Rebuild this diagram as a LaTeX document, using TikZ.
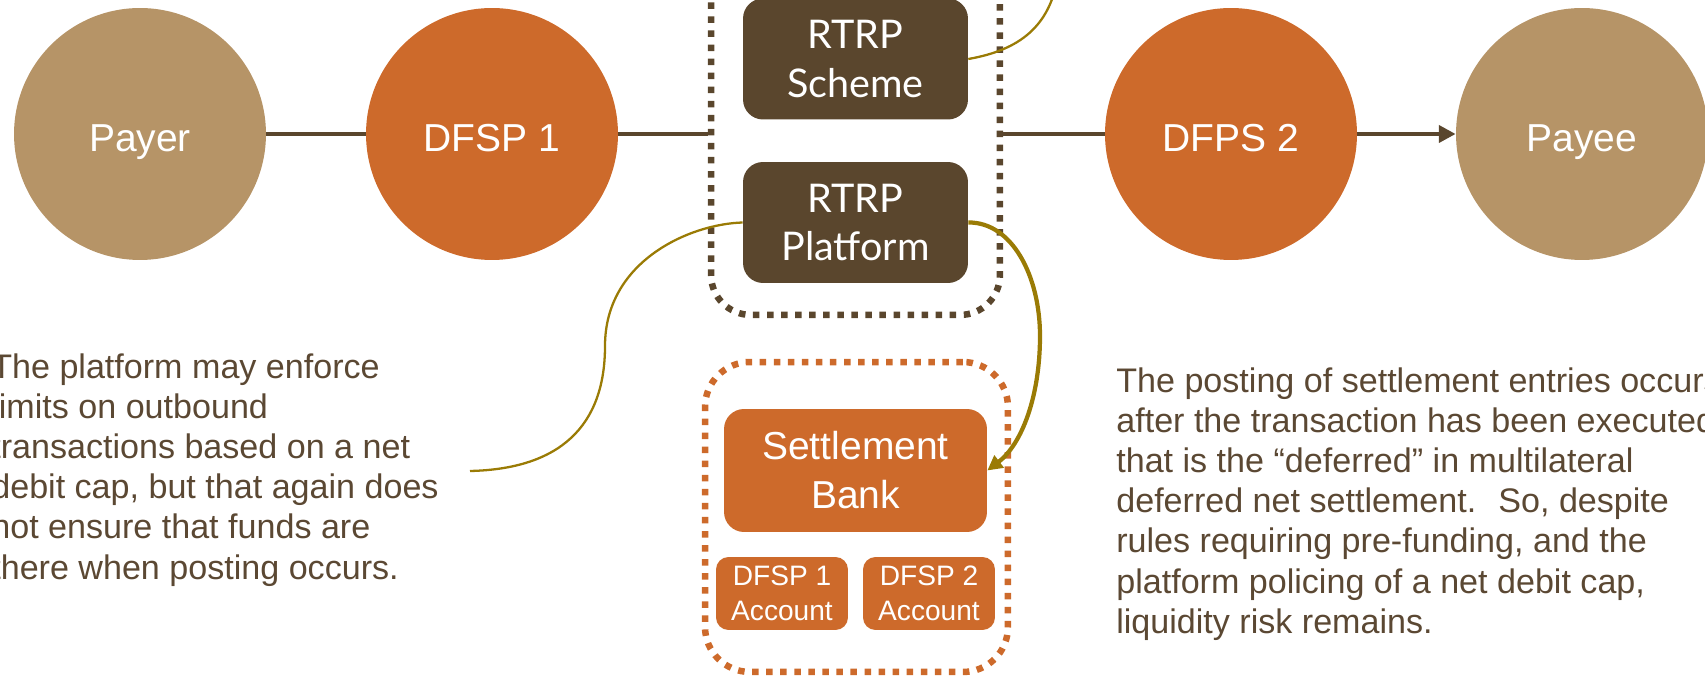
\documentclass[tikz,border=0pt]{standalone}
\usepackage{fontspec}
\setmainfont{Liberation Sans}
\newfontfamily\rtrpfont{Lato}
\usetikzlibrary{arrows.meta,positioning}
\definecolor{partytan}{HTML}{B69467}
\definecolor{dfsporange}{HTML}{CD6A2B}
\definecolor{rtrpbrown}{HTML}{5A462D}
\definecolor{linkgold}{HTML}{9A7B05}
\definecolor{notebrown}{HTML}{5B4833}
\tikzset{
  party/.style={circle, fill=partytan, text=white, minimum size=5.04cm, inner sep=0pt,
    text height=19.4pt, text depth=0pt, font=\fontsize{22.2}{26}\selectfont},
  dfsp/.style={party, fill=dfsporange},
  rtrpbox/.style={rectangle, rounded corners=0.4cm, fill=rtrpbrown, text=white, align=center,
    minimum width=4.5cm, minimum height=2.42cm, inner sep=0pt,
    font=\rtrpfont\fontsize{22.5}{27.6}\selectfont},
  bankbox/.style={rectangle, rounded corners=0.4cm, fill=dfsporange, text=white, align=center,
    inner sep=0pt, font=\fontsize{22.2}{27.9}\selectfont},
  acctbox/.style={bankbox, rounded corners=0.25cm, minimum width=2.64cm, minimum height=1.46cm,
    font=\fontsize{16}{19.9}\selectfont},
  dotbox/.style={rectangle, draw, line width=3.7pt, dash pattern=on 3.7pt off 4.3pt, inner sep=0pt},
  flow/.style={draw=rtrpbrown, line width=2.8pt},
  golden/.style={draw=linkgold, line width=1.3pt},
  note/.style={anchor=north west, align=left, inner sep=0pt, text=notebrown,
    font=\fontsize{19.4}{22.9}\selectfont}
}
\begin{document}
\begin{tikzpicture}[x=0.02cm,y=0.02cm]
  \path[use as bounding box, clip] (0,0) rectangle (1705,676);
  % the payment chain
  \node[party] (payer) at (140,542) {Payer};
  \node[dfsp] (dfspA) at (492,542) {DFSP 1};
  \node[dfsp] (dfspB) at (1231,542) {DFPS 2};
  \node[party] (payee) at (1582,542) {Payee};
  % the real time retail payments core
  \node[dotbox, draw=rtrpbrown, rounded corners=0.8cm, minimum width=5.78cm, minimum height=7.24cm]
    (core) at (855.5,542) {};
  \node[rtrpbox] (scheme) at (855.5,617) {RTRP\\Scheme};
  \node[rtrpbox] (platform) at (855.5,453.5) {RTRP\\Platform};
  % settlement side
  \node[dotbox, draw=dfsporange, rounded corners=0.9cm, minimum width=6.06cm, minimum height=6.2cm]
    (bankgrp) at (856.5,159) {};
  \node[bankbox, minimum width=5.26cm, minimum height=2.46cm] (bank) at (855.5,205.5) {Settlement\\Bank};
  \node[acctbox] (acctA) at (782,82.5) {DFSP 1\\Account};
  \node[acctbox] (acctB) at (929,82.5) {DFSP 2\\Account};
  % the notes
  \node[note] (limits) at (-9,323) {The platform may enforce\\limits on outbound\\transactions based on a net\\debit cap, but that again does\\not ensure that funds are\\there when posting occurs.};
  \node[note] (posting) at (1116,309) {The posting of settlement entries occurs\\after the transaction has been executed;\\that is the “deferred” in multilateral\\deferred net settlement.~ So, despite\\rules requiring pre-funding, and the\\platform policing of a net debit cap,\\liquidity risk remains.};
  \coordinate (schemeup) at (1058,700);
  \coordinate (limitend) at (470,205);
  % connectors
  \draw[flow] (payer) -- (dfspA);
  \draw[flow] (dfspA) -- (core);
  \draw[flow] (core) -- (dfspB);
  \draw[flow, -{Triangle[length=9.5pt,width=9.5pt]}] (dfspB) -- (payee);
  \draw[golden] (scheme.east) .. controls (1020,626) and (1050,650) .. (schemeup);
  \draw[golden] (platform.west) .. controls (690,452) and (605,415) .. (605,330)
    .. controls (605,250) and (560,207) .. (limitend);
  \draw[golden, line width=2.4pt, -{Triangle[length=8.5pt,width=8.5pt]}]
    (platform.east) .. controls (1012,454) and (1040,400) .. (1040,340)
    .. controls (1040,280) and (1022,232) .. (bank.east);
\end{tikzpicture}
\end{document}
